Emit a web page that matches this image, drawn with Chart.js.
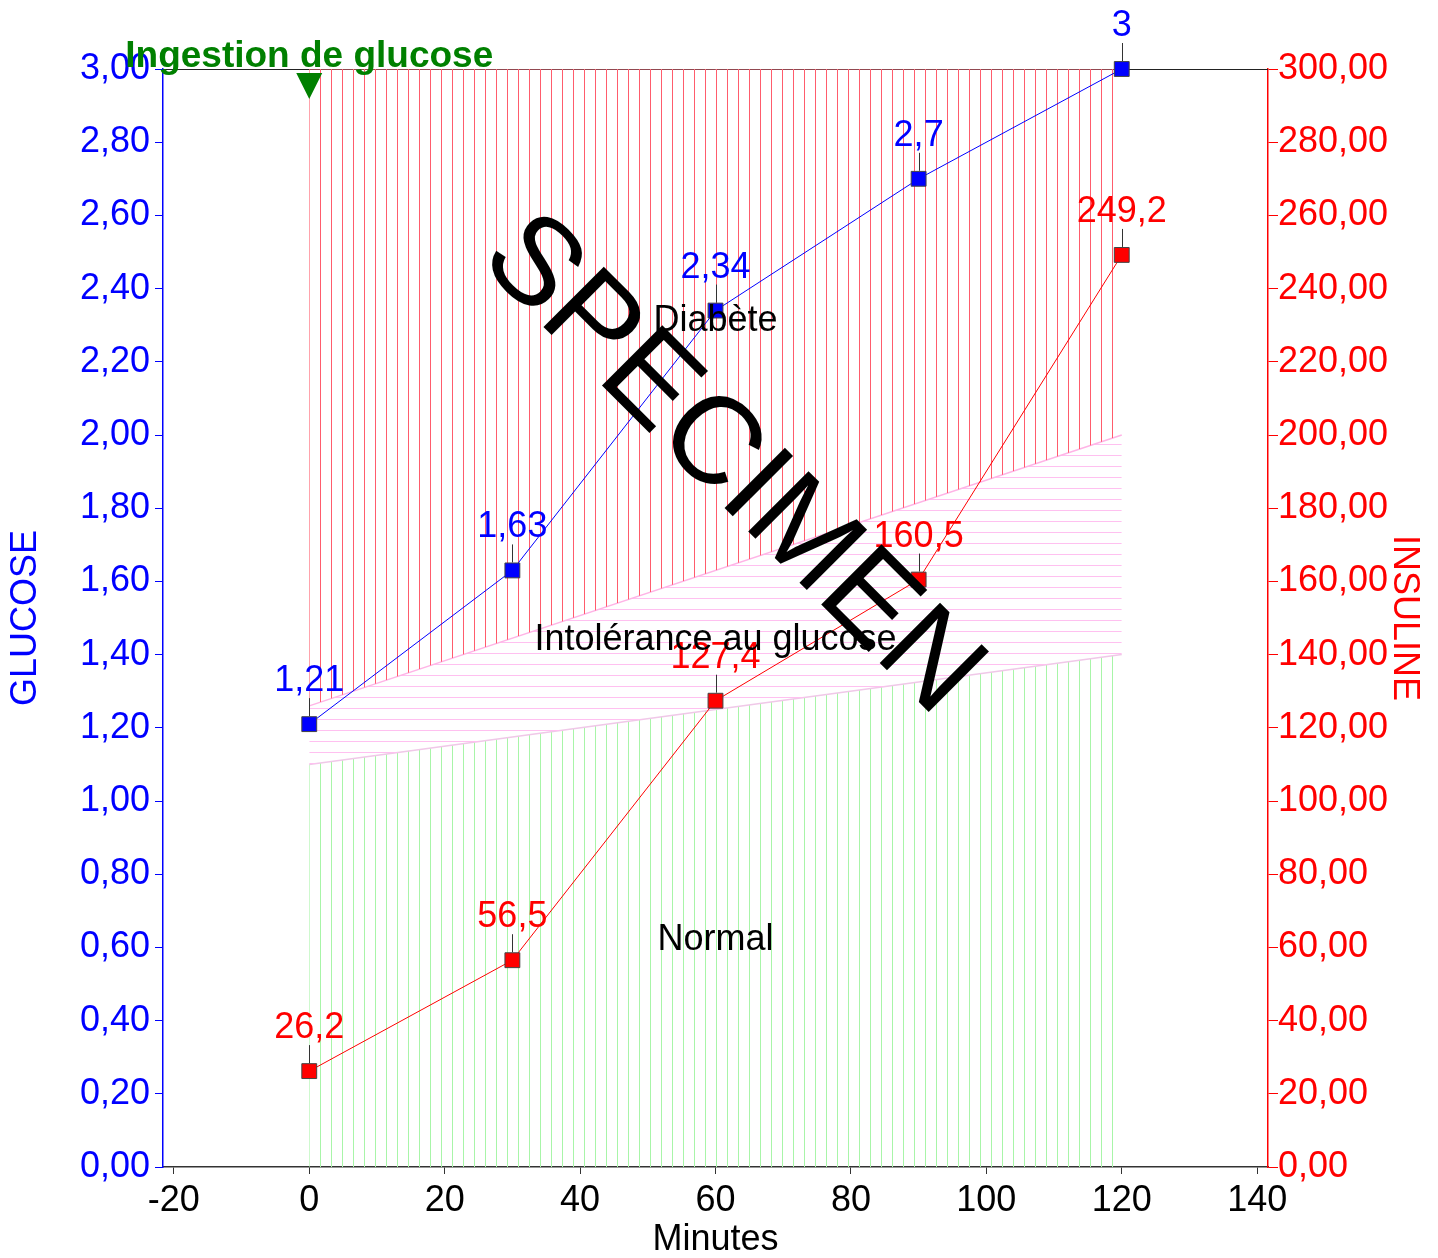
<!DOCTYPE html>
<html>
<head>
<meta charset="utf-8">
<script src="https://cdn.jsdelivr.net/npm/chart.js@4/dist/chart.umd.min.js"></script>
<style>
  body { margin: 0; background: #fff; }
  canvas { display: block; }
</style>
</head>
<body>
<canvas id="ogtt" width="1438" height="1258"></canvas>
<script>
// values
var minutes = [0, 30, 60, 90, 120];
var glucose = [1.21, 1.63, 2.34, 2.7, 3];
var insuline = [26.2, 56.5, 127.4, 160.5, 249.2];

// zone limits (glucose, g/L) at 0 and 120 min
var zoneX = [0, 120];
var normalMax = [1.10, 1.40];
var diabeteMin = [1.26, 2.00];
var glucoseTop = [3, 3];

var zoneNames = ["Diabète", "Intolérance au glucose", "Normal"];
var zoneLabelY = [2.31, 1.44, 0.62];

var FONT = "'Liberation Sans', Arial, sans-serif";
var BLUE = "#0000ff";
var RED = "#ff0000";

function hatch(color, vertical) {
  var c = document.createElement("canvas");
  c.width = 11; c.height = 11;
  var g = c.getContext("2d");
  g.fillStyle = color;
  if (vertical) g.fillRect(0, 0, 1, 11);
  else g.fillRect(0, 0, 11, 1);
  var p = g.createPattern(c, "repeat");
  // line up the hatching with x = 0 min (pixel 309)
  if (vertical) p.setTransform(new DOMMatrix().translate(1, 0));
  else p.setTransform(new DOMMatrix().translate(0, 4));
  return p;
}

function pts(xs, ys) {
  return xs.map(function (x, i) { return { x: x, y: ys[i] }; });
}

function comma(v) {
  return String(v).replace(".", ",");
}

var decor = {
  id: "decor",
  beforeDatasetsDraw: function (chart) {
    var ctx = chart.ctx, a = chart.chartArea;
    ctx.save();
    ctx.strokeStyle = "#222";
    ctx.lineWidth = 1;
    ctx.beginPath();
    ctx.moveTo(a.left, a.top + 0.5);
    ctx.lineTo(a.right, a.top + 0.5);
    ctx.stroke();
    ctx.restore();
  },
  afterDatasetsDraw: function (chart) {
    var ctx = chart.ctx, a = chart.chartArea;
    var xs = chart.scales.x, ys = chart.scales.y;
    ctx.save();

    // point labels with leaders
    [0, 1].forEach(function (di) {
      var ds = chart.data.datasets[di];
      var meta = chart.getDatasetMeta(di);
      meta.data.forEach(function (p, i) {
        ctx.strokeStyle = "#333";
        ctx.lineWidth = 1;
        ctx.beginPath();
        ctx.moveTo(Math.round(p.x) + 0.5, p.y - 8);
        ctx.lineTo(Math.round(p.x) + 0.5, p.y - 26);
        ctx.stroke();
        ctx.fillStyle = ds.borderColor;
        ctx.font = "36px " + FONT;
        ctx.textAlign = "center";
        ctx.textBaseline = "alphabetic";
        ctx.fillText(comma(ds.data[i].y), p.x, p.y - 33);
      });
    });

    // zone names
    ctx.fillStyle = "#000";
    ctx.font = "36px " + FONT;
    ctx.textAlign = "center";
    ctx.textBaseline = "middle";
    zoneNames.forEach(function (t, i) {
      ctx.fillText(t, xs.getPixelForValue(60), ys.getPixelForValue(zoneLabelY[i]));
    });

    // glucose intake marker
    var x0 = xs.getPixelForValue(0);
    ctx.fillStyle = "#008000";
    ctx.beginPath();
    ctx.moveTo(x0 - 13, a.top + 4);
    ctx.lineTo(x0 + 13, a.top + 4);
    ctx.lineTo(x0, a.top + 30);
    ctx.closePath();
    ctx.fill();
    ctx.font = "bold 37px " + FONT;
    ctx.textBaseline = "alphabetic";
    ctx.fillText("Ingestion de glucose", x0, a.top - 2);

    // watermark
    ctx.translate(731, 466);
    ctx.rotate(Math.PI / 4);
    ctx.fillStyle = "#000";
    ctx.font = "124px " + FONT;
    ctx.textAlign = "center";
    ctx.textBaseline = "middle";
    ctx.fillText("SPECIMEN", 0, 0);
    ctx.restore();
  }
};

var ctx = document.getElementById("ogtt").getContext("2d");
var chart = new Chart(ctx, {
  type: "line",
  data: {
    datasets: [{
      label: "Glucose",
      data: pts(minutes, glucose),
      yAxisID: "y",
      borderColor: BLUE,
      backgroundColor: BLUE,
      borderWidth: 1,
      pointStyle: "rect",
      pointRadius: 10.5,
      pointBorderColor: "#444",
      pointBorderWidth: 1,
      fill: false,
      clip: false,
      order: 1
    }, {
      label: "Insuline",
      data: pts(minutes, insuline),
      yAxisID: "y1",
      borderColor: RED,
      backgroundColor: RED,
      borderWidth: 1,
      pointStyle: "rect",
      pointRadius: 10.5,
      pointBorderColor: "#444",
      pointBorderWidth: 1,
      fill: false,
      clip: false,
      order: 0
    }, {
      label: "Normal",
      data: pts(zoneX, normalMax),
      yAxisID: "y",
      borderColor: "#f0c8e8",
      borderWidth: 1.5,
      pointRadius: 0,
      backgroundColor: hatch("#a8f5a8", true),
      fill: "origin",
      order: 5
    }, {
      label: "Intolérance",
      data: pts(zoneX, diabeteMin),
      yAxisID: "y",
      borderColor: "#ffb4e6",
      borderWidth: 1.5,
      pointRadius: 0,
      backgroundColor: hatch("#ffc0f0", false),
      fill: 2,
      order: 4
    }, {
      label: "Diabète",
      data: pts(zoneX, glucoseTop),
      yAxisID: "y",
      borderColor: "#ff7080",
      borderWidth: 1,
      pointRadius: 0,
      backgroundColor: hatch("#ff5c6c", true),
      fill: 3,
      order: 3
    }]
  },
  options: {
    responsive: false,
    animation: false,
    layout: { padding: { top: 69, left: 0, right: 0, bottom: 0 } },
    plugins: {
      legend: { display: false },
      tooltip: { enabled: false }
    },
    scales: {
      x: {
        type: "linear",
        min: -21.6,
        max: 141.6,
        afterFit: function (s) { s.height = 91; },
        border: { display: true, color: "#333", width: 1.5 },
        grid: { drawOnChartArea: false, drawTicks: true, tickLength: 7, color: "#333" },
        ticks: {
          stepSize: 20,
          includeBounds: false,
          maxRotation: 0,
          padding: 5,
          color: "#000",
          font: { family: FONT, size: 36 }
        },
        title: {
          display: true,
          text: "Minutes",
          color: "#000",
          padding: 0,
          font: { family: FONT, size: 36, lineHeight: 1 }
        }
      },
      y: {
        position: "left",
        min: 0,
        max: 3,
        afterFit: function (s) { s.width = 163; },
        border: { display: true, color: BLUE, width: 1.5 },
        grid: { drawOnChartArea: false, drawTicks: true, tickLength: 8, color: BLUE },
        ticks: {
          stepSize: 0.2,
          includeBounds: false,
          padding: 5,
          color: BLUE,
          font: { family: FONT, size: 36 },
          callback: function (v) { return v.toFixed(2).replace(".", ","); }
        },
        title: {
          display: true,
          text: "GLUCOSE",
          color: BLUE,
          padding: 4,
          font: { family: FONT, size: 36 }
        }
      },
      y1: {
        position: "right",
        min: 0,
        max: 300,
        afterFit: function (s) { s.width = 170; },
        border: { display: true, color: RED, width: 1.5 },
        grid: { drawOnChartArea: false, drawTicks: true, tickLength: 10, color: RED },
        ticks: {
          stepSize: 20,
          includeBounds: false,
          padding: 0,
          color: RED,
          font: { family: FONT, size: 36 },
          callback: function (v) { return v.toFixed(2).replace(".", ","); }
        },
        title: {
          display: true,
          text: "INSULINE",
          color: RED,
          padding: 12,
          font: { family: FONT, size: 36 }
        }
      }
    }
  },
  plugins: [decor]
});
</script>
</body>
</html>
